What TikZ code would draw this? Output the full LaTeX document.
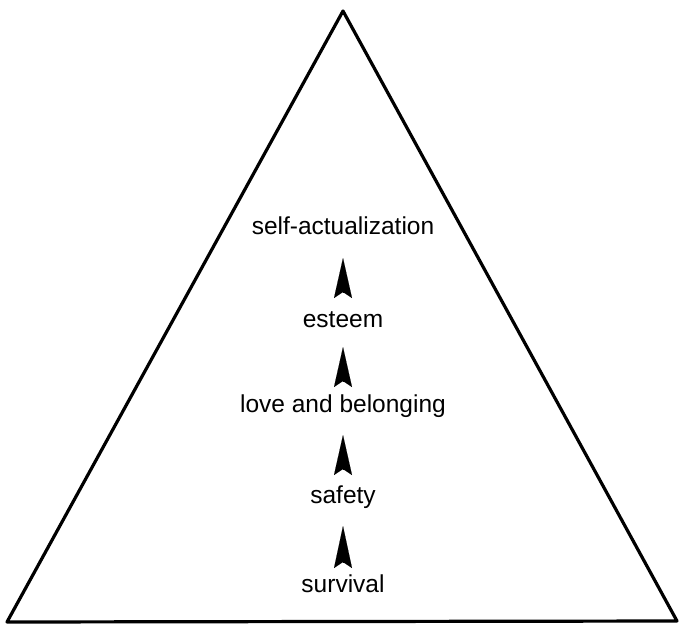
\documentclass[tikz,border=0pt]{standalone}
\usepackage{fontspec}
\setmainfont{Liberation Sans}
\usetikzlibrary{arrows.meta}
\begin{document}
\begin{tikzpicture}[x=1pt, y=-1pt,
        level/.style={anchor=base, inner sep=0pt, font=\fontsize{24.5}{28}\selectfont},
        uparrow/.style={line width=0.1pt, -{Stealth[length=40pt, width=18pt, inset=6pt]}}]
        \useasboundingbox (0,0) rectangle (679,626);
        % pyramid
        \coordinate (top) at (343,11);
        \coordinate (left) at (7,622);
        \coordinate (right) at (677,621);
        \draw[line width=3.2pt, line join=round] (top) -- (right) -- (left) -- cycle;
        % levels
        \node[level] (selfact) at (343,234) {self-actualization};
        \node[level] (esteem) at (343,327) {esteem};
        \node[level] (love) at (343,412) {love and belonging};
        \node[level] (safety) at (343,503) {safety};
        \node[level] (survival) at (343,592) {survival};
        % arrows between levels
        \coordinate (b1) at (343,292); \coordinate (t1) at (343,258);
        \coordinate (b2) at (343,381); \coordinate (t2) at (343,347);
        \coordinate (b3) at (343,469); \coordinate (t3) at (343,435);
        \coordinate (b4) at (343,562); \coordinate (t4) at (343,526);
        \draw[uparrow] (b1) -- (t1);
        \draw[uparrow] (b2) -- (t2);
        \draw[uparrow] (b3) -- (t3);
        \draw[uparrow, -{Stealth[length=42pt, width=18pt, inset=6pt]}] (b4) -- (t4);
    \end{tikzpicture}
\end{document}
